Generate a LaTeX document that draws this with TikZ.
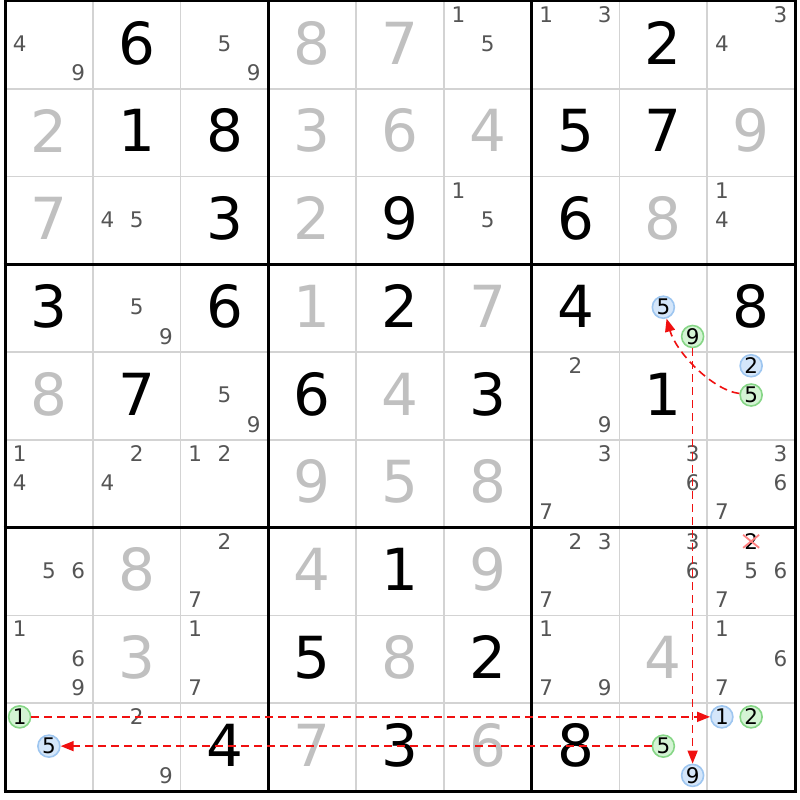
\documentclass[tikz,border=0pt]{standalone}
\usepackage{fontspec}
\setmainfont{DejaVu Sans}
\usetikzlibrary{arrows.meta}
\definecolor{solvedgray}{HTML}{C0C0C0}
\definecolor{candgray}{HTML}{555555}
\definecolor{thingrid}{HTML}{D3D3D3}
\definecolor{bluefill}{HTML}{D4E6FA}
\definecolor{bluedraw}{HTML}{9EC6F0}
\definecolor{greenfill}{HTML}{D4F4D4}
\definecolor{greendraw}{HTML}{86D686}
\definecolor{linkred}{HTML}{F01010}
\def\cs{87.78}
\tikzset{
  givenstyle/.style={text=black, font=\fontsize{58}{58}\selectfont, inner sep=0pt},
  solvedstyle/.style={text=solvedgray, font=\fontsize{58}{58}\selectfont, inner sep=0pt},
  candstyle/.style={text=candgray, font=\fontsize{21.5}{21.5}\selectfont, inner sep=0pt},
  bluecand/.style={circle, fill=bluefill, draw=bluedraw, line width=1.6pt, minimum size=22pt, inner sep=0pt, text=black, font=\fontsize{21.5}{21.5}\selectfont},
  greencand/.style={circle, fill=greenfill, draw=greendraw, line width=1.6pt, minimum size=22pt, inner sep=0pt, text=black, font=\fontsize{21.5}{21.5}\selectfont},
  link/.style={draw=linkred, line width=1.6pt, dash pattern=on 8pt off 5pt, -{Triangle[length=13pt,width=10pt]}},
  thinline/.style={draw=thingrid, line width=1.8pt},
  thickline/.style={draw=black, line width=3pt},
}
\begin{document}
\begin{tikzpicture}[x=1pt,y=-1pt]
\useasboundingbox[fill=white] (0,0) rectangle (800,800);
% thin grid lines
\foreach \i in {1,2,4,5,7,8}{
  \draw[thinline] ({5+\i*\cs},1) -- ({5+\i*\cs},{1+9*\cs});
  \draw[thinline] (5,{1+\i*\cs}) -- ({5+9*\cs},{1+\i*\cs});
}
% thick grid lines
\foreach \i in {0,3,6,9}{
  \draw[thickline] ({5+\i*\cs},{1-1.5}) -- ({5+\i*\cs},{1+9*\cs+1.5});
  \draw[thickline] ({5-1.5},{1+\i*\cs}) -- ({5+9*\cs+1.5},{1+\i*\cs});
}
% given digits
\foreach \r/\c/\d in {0/1/6, 0/7/2, 1/1/1, 1/2/8, 1/6/5, 1/7/7, 2/2/3, 2/4/9, 2/6/6,
  3/0/3, 3/2/6, 3/4/2, 3/6/4, 3/8/8, 4/1/7, 4/3/6, 4/5/3, 4/7/1, 6/4/1,
  7/3/5, 7/5/2, 8/2/4, 8/4/3, 8/6/8}{
  \node[givenstyle] (giv\r\c) at ({5+(\c+0.5)*\cs},{1+(\r+0.5)*\cs-2}) {\d};
}
% solved digits
\foreach \r/\c/\d in {0/3/8, 0/4/7, 1/0/2, 1/3/3, 1/4/6, 1/5/4, 1/8/9, 2/0/7, 2/3/2, 2/7/8,
  3/3/1, 3/5/7, 4/0/8, 4/4/4, 5/3/9, 5/4/5, 5/5/8, 6/1/8, 6/3/4, 6/5/9,
  7/1/3, 7/4/8, 7/7/4, 8/3/7, 8/5/6}{
  \node[solvedstyle] (sol\r\c) at ({5+(\c+0.5)*\cs},{1+(\r+0.5)*\cs-2}) {\d};
}
% candidates
\foreach \r/\c/\d in {0/0/4, 0/0/9, 0/2/5, 0/2/9, 0/5/1, 0/5/5, 0/6/1, 0/6/3, 0/8/3, 0/8/4,
  2/1/4, 2/1/5, 2/5/1, 2/5/5, 2/8/1, 2/8/4,
  3/1/5, 3/1/9, 4/2/5, 4/2/9, 4/6/2, 4/6/9,
  5/0/1, 5/0/4, 5/1/2, 5/1/4, 5/2/1, 5/2/2, 5/6/3, 5/6/7, 5/7/3, 5/7/6, 5/8/3, 5/8/6, 5/8/7,
  6/0/5, 6/0/6, 6/2/2, 6/2/7, 6/6/2, 6/6/3, 6/6/7, 6/7/3, 6/7/6, 6/8/5, 6/8/6, 6/8/7,
  7/0/1, 7/0/6, 7/0/9, 7/2/1, 7/2/7, 7/6/1, 7/6/7, 7/6/9, 7/8/1, 7/8/6, 7/8/7,
  8/1/2, 8/1/9}{
  \pgfmathsetmacro\cx{5+\c*\cs+(mod(\d-1,3)+0.5)*\cs/3}
  \pgfmathsetmacro\cy{1+\r*\cs+(floor((\d-1)/3)+0.5)*\cs/3-1}
  \node[candstyle] (cand\r\c\d) at (\cx,\cy) {\d};
}
% eliminated candidate (crossed)
\node[candstyle, text=black] (cand682) at ({5+8*\cs+1.5*\cs/3},{1+6*\cs+0.5*\cs/3-1}) {2};
\draw[red!50, line width=1.8pt] ([shift={(-8,-6.5)}]cand682.center) -- ([shift={(8,6.5)}]cand682.center)
  ([shift={(-8,6.5)}]cand682.center) -- ([shift={(8,-6.5)}]cand682.center);
% circled candidates
\foreach \r/\c/\d/\s/\n in {3/7/5/bluecand/bD, 3/7/9/greencand/gC, 4/8/2/bluecand/bE,
  4/8/5/greencand/gD, 8/0/1/greencand/gA, 8/0/5/bluecand/bB, 8/7/5/greencand/gB,
  8/7/9/bluecand/bC, 8/8/1/bluecand/bA, 8/8/2/greencand/gE}{
  \pgfmathsetmacro\cx{5+\c*\cs+(mod(\d-1,3)+0.5)*\cs/3}
  \pgfmathsetmacro\cy{1+\r*\cs+(floor((\d-1)/3)+0.5)*\cs/3-1}
  \node[\s] (\n) at (\cx,\cy) {\d};
}
% links
\draw[link] (gA) -- (bA);
\draw[link] (gB) -- (bB);
\draw[link] (gC) -- (bC);
\draw[link] (gD) .. controls (712,390) and (676,352) .. (bD);
\end{tikzpicture}
\end{document}
